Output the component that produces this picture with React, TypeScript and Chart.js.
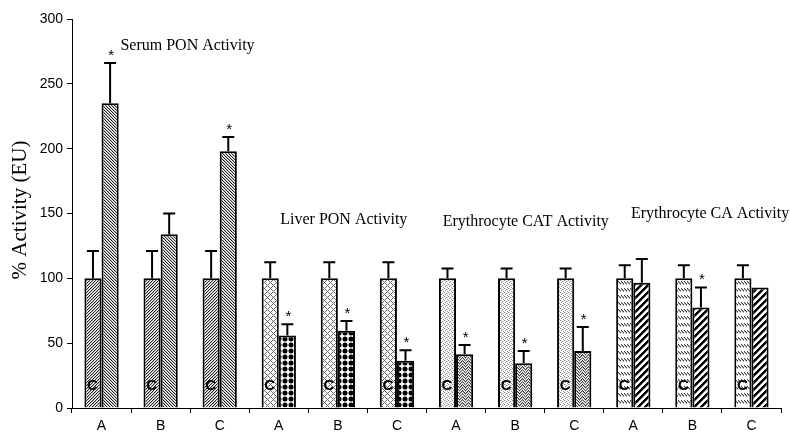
import React, { useEffect, useRef } from "react";
import { Chart, registerables } from "chart.js";

Chart.register(...registerables);

// ---- data ----
const categories = ["A", "B", "C", "A", "B", "C", "A", "B", "C", "A", "B", "C"];
const controlValues = [100, 100, 100, 100, 100, 100, 100, 100, 100, 100, 100, 100];
const controlErrors = [21, 21, 21, 12.5, 12.5, 12.5, 7.5, 7.5, 7.5, 10, 10, 10];
const treatmentValues = [235, 134, 198, 56, 59.5, 36.5, 41.5, 34.5, 44, 96.5, 77.5, 93];
const treatmentErrors = [31, 16, 11, 8.5, 7.5, 8, 7, 9.5, 18.5, 18.5, 15.5, 0];
const significant = [true, false, true, true, true, true, true, true, true, false, true, false];
const groupTitles = [
  "Serum PON Activity",
  "Liver PON Activity",
  "Erythrocyte CAT Activity",
  "Erythrocyte CA Activity",
];
const controlLabel = "C";
const yAxisTitle = "% Activity (EU)";

// layout anchors for group titles: [category position, value position]
const titleAnchors: [number, number][] = [
  [1.455, 279.5],
  [4.1, 145],
  [7.18, 143.6],
  [10.3, 149.8],
];

type Painter = (g: CanvasRenderingContext2D, w: number, h: number) => void;

function makeTile(main: CanvasRenderingContext2D, w: number, h: number, draw: Painter) {
  const c = document.createElement("canvas");
  c.width = w;
  c.height = h;
  const g = c.getContext("2d")!;
  g.fillStyle = "#fff";
  g.fillRect(0, 0, w, h);
  draw(g, w, h);
  return main.createPattern(c, "repeat")!;
}

function px(g: CanvasRenderingContext2D, x: number, y: number, color: string) {
  g.fillStyle = color;
  g.fillRect(x, y, 1, 1);
}

function buildPatterns(main: CanvasRenderingContext2D) {
  const serumCtrl = makeTile(main, 3, 3, (g) => {
    for (let x = 0; x < 3; x++)
      for (let y = 0; y < 3; y++) {
        const k = (x + y) % 3;
        if (k === 0) px(g, x, y, "#222");
        else if (k === 1) px(g, x, y, "#bbb");
      }
  });
  const serumTreat = makeTile(main, 3, 3, (g) => {
    for (let x = 0; x < 3; x++)
      for (let y = 0; y < 3; y++) {
        const k = (x - y + 6) % 3;
        if (k === 0) px(g, x, y, "#222");
        else if (k === 1) px(g, x, y, "#bbb");
      }
  });
  const liverCtrl = makeTile(main, 6, 6, (g) => {
    for (let x = 0; x < 6; x++)
      for (let y = 0; y < 6; y++) {
        if ((x + y) % 6 === 0 || (x - y + 6) % 6 === 0) px(g, x, y, "#666");
      }
  });
  const liverTreat = makeTile(main, 6, 6, (g) => {
    g.fillStyle = "#000";
    g.beginPath();
    g.arc(3, 3, 2.5, 0, Math.PI * 2);
    g.fill();
  });
  const catCtrl = makeTile(main, 4, 4, (g) => {
    px(g, 0, 0, "#888");
    px(g, 2, 1, "#999");
    px(g, 1, 2, "#888");
    px(g, 3, 3, "#999");
    px(g, 3, 1, "#ccc");
    px(g, 1, 0, "#ddd");
  });
  const catTreat = makeTile(main, 6, 6, (g) => {
    for (let x = 0; x < 6; x++) {
      const yy = x < 3 ? x : 6 - x;
      px(g, x, yy % 6, "#333");
      px(g, x, (yy + 3) % 6, "#555");
      px(g, x, (yy + 1) % 6, "#aaa");
      px(g, x, (yy + 4) % 6, "#bbb");
    }
  });
  const caCtrl = makeTile(main, 6, 7, (g) => {
    for (let x = 0; x < 6; x++) {
      px(g, x, 1 + (x % 3), "#444");
      px(g, x, 2 + (x % 3), "#aaa");
    }
  });
  const caTreat = makeTile(main, 7, 7, (g) => {
    for (let x = 0; x < 7; x++)
      for (let y = 0; y < 7; y++) {
        const k = (x + y) % 7;
        if (k < 3) px(g, x, y, "#000");
        else if (k === 3) px(g, x, y, "#888");
      }
  });
  const ctrl = [serumCtrl, liverCtrl, catCtrl, caCtrl];
  const treat = [serumTreat, liverTreat, catTreat, caTreat];
  return {
    control: categories.map((_, i) => ctrl[Math.floor(i / 3)]),
    treatment: categories.map((_, i) => treat[Math.floor(i / 3)]),
  };
}

const annotationPlugin = {
  id: "annotations",
  afterDatasetsDraw(chart: any) {
    const ctx: CanvasRenderingContext2D = chart.ctx;
    const xs = chart.scales.x;
    const ys = chart.scales.y;
    const errs = [controlErrors, treatmentErrors];
    const vals = [controlValues, treatmentValues];
    ctx.save();
    ctx.strokeStyle = "#000";
    ctx.fillStyle = "#000";
    ctx.lineWidth = 2;
    [0, 1].forEach((d) => {
      const meta = chart.getDatasetMeta(d);
      meta.data.forEach((bar: any, i: number) => {
        const v = vals[d][i];
        const e = errs[d][i];
        const top = ys.getPixelForValue(v);
        const yE = ys.getPixelForValue(v + e);
        if (e > 0) {
          ctx.beginPath();
          ctx.moveTo(bar.x, top);
          ctx.lineTo(bar.x, yE);
          ctx.moveTo(bar.x - 6, yE);
          ctx.lineTo(bar.x + 6, yE);
          ctx.stroke();
        }
        if (d === 1 && significant[i]) {
          ctx.font = "15px 'Liberation Sans', Arial, sans-serif";
          ctx.textAlign = "center";
          ctx.textBaseline = "alphabetic";
          ctx.fillText("*", bar.x + 1, yE - 3);
        }
        if (d === 0) {
          ctx.font = "bold 15px 'Liberation Sans', Arial, sans-serif";
          ctx.textAlign = "center";
          ctx.textBaseline = "middle";
          ctx.fillText(controlLabel, bar.x - 0.5, ys.getPixelForValue(17));
        }
      });
    });
    const xAt = (p: number) => {
      const f = Math.floor(p);
      const a = xs.getPixelForValue(f);
      const b = xs.getPixelForValue(f + 1);
      return a + (b - a) * (p - f);
    };
    ctx.font = "16px 'Liberation Serif', 'Times New Roman', serif";
    ctx.textAlign = "center";
    ctx.textBaseline = "middle";
    groupTitles.forEach((t, i) => {
      const [p, v] = titleAnchors[i];
      ctx.fillText(t, xAt(p), ys.getPixelForValue(v));
    });
    ctx.translate(20, 210);
    ctx.rotate(-Math.PI / 2);
    ctx.font = "21px 'Liberation Serif', 'Times New Roman', serif";
    ctx.fillText(yAxisTitle, 0, 0);
    ctx.restore();
  },
};

export default function App() {
  const ref = useRef<HTMLCanvasElement>(null);
  useEffect(() => {
    document.body.style.margin = "0";
    const canvas = ref.current!;
    const main = canvas.getContext("2d")!;
    const pats = buildPatterns(main);
    const tickFont = { family: "'Liberation Sans', Arial, sans-serif", size: 14 };
    const chart = new Chart(canvas, {
      type: "bar",
      data: {
        labels: categories,
        datasets: [
          {
            data: controlValues,
            backgroundColor: pats.control as any,
            borderColor: "#000",
            borderWidth: 2,
            categoryPercentage: 0.58,
            barPercentage: 1,
          },
          {
            data: treatmentValues,
            backgroundColor: pats.treatment as any,
            borderColor: "#000",
            borderWidth: 2,
            categoryPercentage: 0.58,
            barPercentage: 1,
          },
        ],
      },
      options: {
        responsive: false,
        animation: false,
        devicePixelRatio: 1,
        layout: { padding: { top: 19, right: 9, left: 0, bottom: 0 } },
        plugins: { legend: { display: false }, tooltip: { enabled: false } },
        scales: {
          x: {
            grid: {
              display: true,
              drawOnChartArea: false,
              drawTicks: true,
              tickLength: 5,
              color: "#000",
              offset: true,
            },
            border: { color: "#000", width: 1 },
            ticks: { color: "#000", font: tickFont, padding: 5 },
            afterFit: (s: any) => {
              s.height = 25;
            },
          },
          y: {
            min: 0,
            max: 300,
            grid: {
              display: true,
              drawOnChartArea: false,
              drawTicks: true,
              tickLength: 5,
              color: "#000",
            },
            border: { color: "#000", width: 1 },
            ticks: { color: "#000", font: tickFont, stepSize: 50, padding: 4 },
            afterFit: (s: any) => {
              s.width = 72;
            },
          },
        },
      },
      plugins: [annotationPlugin],
    });
    return () => chart.destroy();
  }, []);
  return (
    <div style={{ position: "absolute", left: 0, top: 0, width: 790, height: 433, background: "#fff" }}>
      <canvas ref={ref} width={790} height={433} style={{ display: "block" }} />
    </div>
  );
}
